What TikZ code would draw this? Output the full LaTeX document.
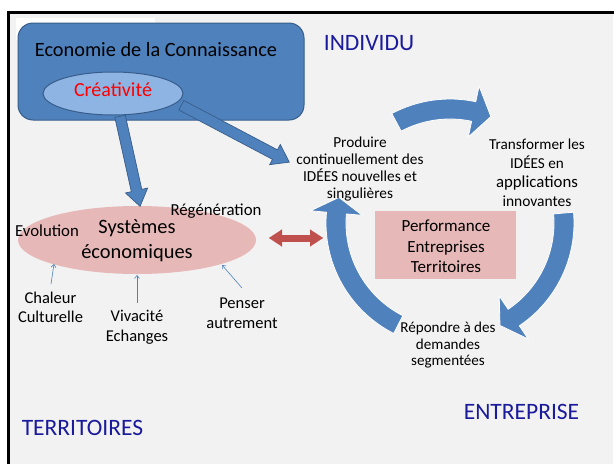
\documentclass[tikz,border=0pt]{standalone}
\usepackage{fontspec}
\setmainfont{Carlito}
\usetikzlibrary{arrows.meta,shapes.geometric,shapes.arrows,calc}
\definecolor{mblue}{RGB}{79,129,189}
\definecolor{mborder}{RGB}{56,93,138}
\definecolor{lblue}{RGB}{142,180,227}
\definecolor{pinkc}{RGB}{230,185,184}
\definecolor{redc}{RGB}{192,80,77}
\definecolor{bgc}{RGB}{242,242,242}
\definecolor{dblue}{RGB}{26,26,156}
\newcommand{\fs}[2]{\fontsize{#1}{#2}\selectfont}
\newcommand{\circarr}[8]{%
  \filldraw[circarrow] (#6:#2) arc[start angle=#6, end angle=#7, radius=#2] -- (#7:#4) -- (#8:#5) -- (#7:#3) -- (#7:#1) arc[start angle=#7, end angle=#6, radius=#1] -- cycle;}
\tikzset{
  circarrow/.style={fill=mblue, draw=white, line width=0.8pt, line join=miter},
  blockarrow/.style={single arrow, fill=mblue, draw=mborder, line width=0.7pt,
    inner xsep=0pt, inner ysep=5pt, single arrow head extend=6pt, single arrow tip angle=70,
    sloped, allow upside down, anchor=tail, pos=0},
  thinarrow/.style={mblue, line width=0.6pt, -{Straight Barb[length=3pt,width=5pt]}},
  lbl/.style={inner sep=0pt, align=center, text=black},
  corner/.style={inner sep=0pt, text=dblue, font=\fs{23.5}{26}},
}
\begin{document}
\begin{tikzpicture}[x=1pt,y=-1pt]
\useasboundingbox (0,0) rectangle (614,464);
\fill[white] (0,0) rectangle (614,464);
\fill[bgc] (8,12) rectangle (613,464);
\draw[line width=3pt] (8.5,464) -- (8.5,12.5) -- (614,12.5);
\fill[white] (16,18) rectangle (155,40);

% Economie box
\node[draw=mborder, fill=mblue, rounded corners=15pt, minimum width=286pt, minimum height=97pt, line width=1pt] (eco) at (161,71.5) {};
\node[lbl, font=\fs{20.3}{23}] (ecot) at (156,50) {Economie de la Connaissance};
\node[ellipse, draw=mborder, fill=lblue, line width=1pt, minimum width=140pt, minimum height=43pt] (crea) at (113,93.5) {};
\node[lbl, text=red, font=\fs{20}{22}] (creat) at (113,90) {Créativité};

\node[corner] (indiv) at (369,43) {INDIVIDU};
\node[corner] (entr) at (521.5,412) {ENTREPRISE};
\node[corner] (terr) at (82.5,428) {TERRITOIRES};

% Systemes
\node[ellipse, fill=pinkc, minimum width=238pt, minimum height=68pt] (sys) at (137,240) {};
\node[lbl, font=\fs{20.4}{25}] (syst) at (137,241) {Systèmes\\économiques};

% block arrows
\coordinate (b1s) at (120,116);
\coordinate (b1e) at (140,206);
\path let \p1=($(b1e)-(b1s)$), \n1={veclen(\x1,\y1)} in (b1s) -- (b1e) node[blockarrow, minimum height=\n1] {};
\coordinate (b2s) at (181,105);
\coordinate (b2e) at (289,162);
\path let \p1=($(b2e)-(b2s)$), \n1={veclen(\x1,\y1)} in (b2s) -- (b2e) node[blockarrow, minimum height=\n1] {};

% labels around Systemes
\node[lbl, font=\fs{16.8}{18}] (evol) at (47,231) {Evolution};
\node[lbl, font=\fs{16.8}{18}] (regen) at (216,211) {Régénération};
\node[lbl, font=\fs{16.5}{19}] (chal) at (50.5,307.5) {Chaleur\\Culturelle};
\node[lbl, font=\fs{16.5}{20}] (viv) at (137,327) {Vivacité\\Echanges};
\node[lbl, font=\fs{16.5}{20}] (pens) at (242,313) {Penser\\autrement};
\coordinate (chalt) at (51,284);
\coordinate (chale) at (54,264);
\coordinate (vivt) at (137,303);
\coordinate (vive) at (137,275);
\coordinate (penst) at (242,288);
\coordinate (pense) at (222,265);
\draw[thinarrow] (chalt) -- (chale);
\draw[thinarrow] (vivt) -- (vive);
\draw[thinarrow] (penst) -- (pense);

% red double arrow
\coordinate (rl) at (269,238);
\coordinate (rr) at (323,238);
\draw[redc, line width=7pt, {Triangle[length=13pt,width=17pt,line width=0.1pt]}-{Triangle[length=13pt,width=17pt,line width=0.1pt]}] (rl) -- (rr);

% circular arrows
\begin{scope}[shift={(450,223)}]
\circarr{104}{124}{88}{140}{114}{-118}{-78}{-69}
\circarr{104}{124}{88}{140}{114}{-5}{56}{64}
\circarr{104}{124}{88}{140}{114}{117}{185}{193}
\end{scope}

\node[fill=pinkc, minimum width=141pt, minimum height=68pt] (perf) at (445.5,245) {};
\node[lbl, font=\fs{17}{20.5}] (perft) at (446,246.5) {Performance\\Entreprises\\Territoires};

\node[lbl, font=\fs{15.3}{17}] (prod) at (360,168.5) {Produire\\continuellement des\\IDÉES nouvelles et\\singulières};
\node[lbl, font=\fs{15.2}{19}] (trans) at (537,173) {Transformer les\\IDÉES en\\{\fs{16.8}{19}applications}\\{\fs{15.5}{19}innovantes}};
\node[lbl, font=\fs{15.1}{16.5}] (rep) at (448,345.5) {Répondre à des\\demandes\\segmentées};
\end{tikzpicture}
\end{document}
